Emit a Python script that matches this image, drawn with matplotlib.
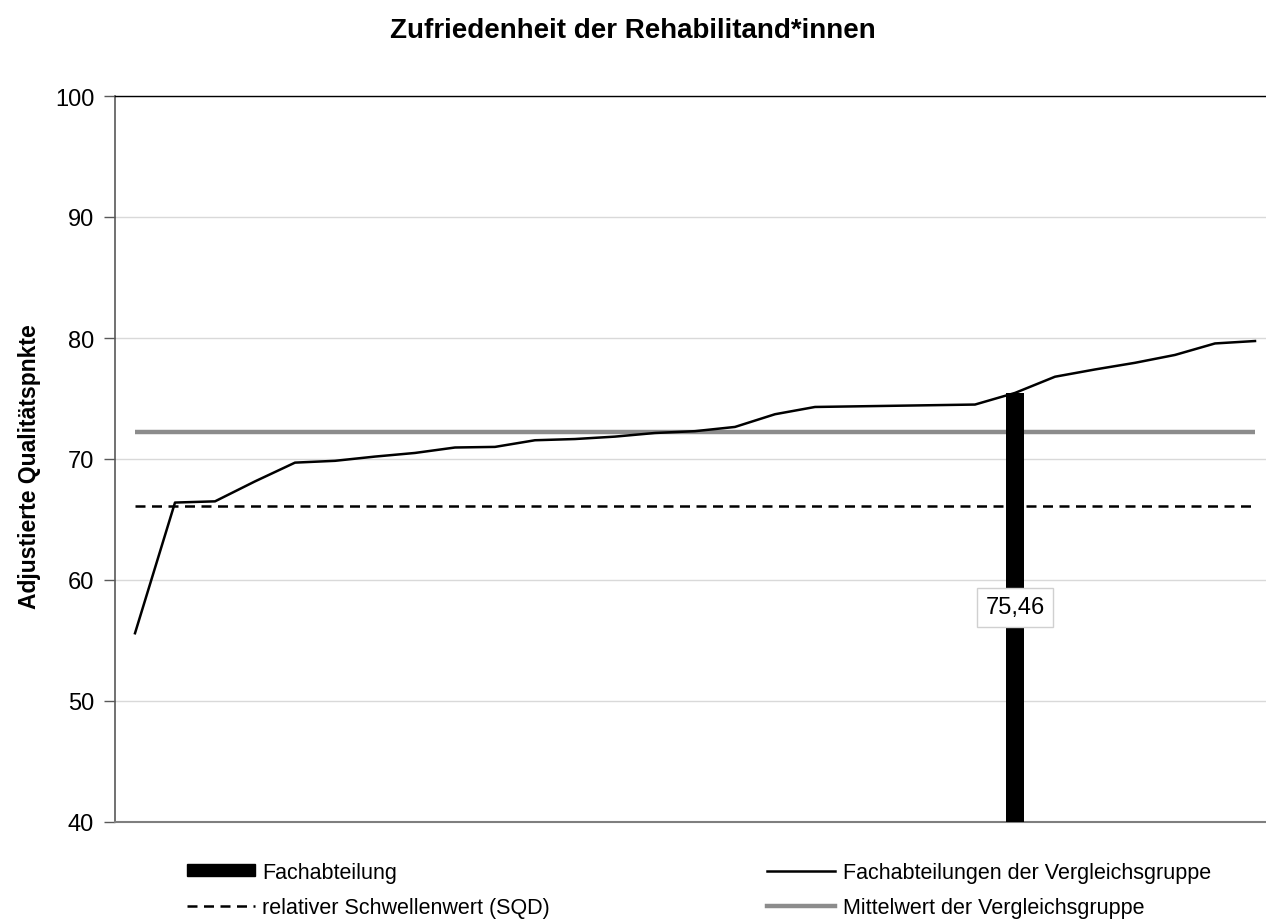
import matplotlib
matplotlib.use("Agg")
import matplotlib.pyplot as plt
from matplotlib.lines import Line2D
from matplotlib.patches import Patch
import numpy as np

plt.rcParams['font.family'] = ['Liberation Sans', 'DejaVu Sans']

# ---- data ----
title = "Zufriedenheit der Rehabilitand*innen"
ylabel = "Adjustierte Qualitätspnkte"
group_values = [55.6, 66.4, 66.5, 68.15, 69.7, 69.85, 70.2, 70.5, 70.95, 71.0,
                71.55, 71.65, 71.85, 72.15, 72.3, 72.65, 73.7, 74.3, 74.35, 74.4,
                74.45, 74.5, 75.46, 76.8, 77.4, 77.95, 78.6, 79.55, 79.75]
dept_index = 22
dept_value = 75.46
dept_label = "75,46"
threshold = 66.1
group_mean = 72.25
yticks = [40, 50, 60, 70, 80, 90, 100]
legend_labels = ["Fachabteilung", "relativer Schwellenwert (SQD)",
                 "Fachabteilungen der Vergleichsgruppe", "Mittelwert der Vergleichsgruppe"]

W, H = 1266, 920
fig = plt.figure(figsize=(W / 100, H / 100), dpi=100)
ax = fig.add_axes([115 / W, 1 - 823 / H, (1275 - 115) / W, (823 - 97) / H])

n = len(group_values)
x = np.arange(n)
ymin = yticks[0]

ax.bar([dept_index], [dept_value - ymin], bottom=ymin, width=0.45, color='black', zorder=3)
ax.plot(x, [threshold] * n, color='black', lw=1.8, dashes=(4, 2.6), zorder=2)
ax.plot(x, [group_mean] * n, color='#8c8c8c', lw=3.2, zorder=2, solid_capstyle='butt')
ax.plot(x, group_values, color='black', lw=1.8, zorder=4, solid_joinstyle='round')

ax.text(dept_index, (ymin + dept_value) / 2, dept_label, ha='center', va='center', fontsize=17,
        zorder=5, bbox=dict(boxstyle='square,pad=0.35', fc='white', ec='#d0d0d0', lw=1))

ax.set_xlim(-0.5, n - 0.5)
ax.set_ylim(yticks[0], yticks[-1])
ax.set_yticks(yticks)
ax.set_yticklabels([str(t) for t in yticks], fontsize=17)
ax.set_xticks([])
ax.grid(axis='y', color='#d9d9d9', lw=1)
ax.set_axisbelow(True)
ax.tick_params(axis='y', length=8, width=1, color='#595959', pad=7)
ax.spines['right'].set_visible(False)
ax.spines['top'].set_color('black')
ax.spines['top'].set_linewidth(1)
ax.spines['left'].set_color('#595959')
ax.spines['left'].set_linewidth(1.2)
ax.spines['bottom'].set_color('#7f7f7f')
ax.spines['bottom'].set_linewidth(1.5)

fig.text(30 / W, 1 - 467 / H, ylabel, rotation=90, ha='center', va='center',
         fontsize=16.5, fontweight='bold')
fig.text(633 / W, 1 - 31 / H, title, ha='center', va='center', fontsize=20, fontweight='bold')

handles = [Patch(facecolor='black', edgecolor='black'),
           Line2D([], [], color='black', lw=1.8, dashes=(4, 2.6)),
           Line2D([], [], color='black', lw=1.8),
           Line2D([], [], color='#8c8c8c', lw=3.2)]
leg = fig.legend(handles, legend_labels, ncol=2, loc='center left',
                 bbox_to_anchor=(167.5 / W, 1 - 891 / H), frameon=False, fontsize=15.5,
                 handlelength=3.16, handleheight=0.5, handletextpad=0.34,
                 columnspacing=10.1, labelspacing=0.65)

fig.savefig("out.png", dpi=100)
